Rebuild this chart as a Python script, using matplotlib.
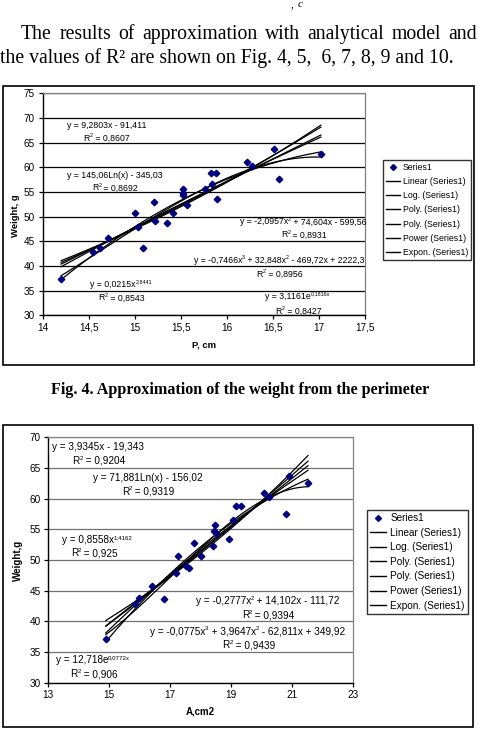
import numpy as np
import matplotlib
matplotlib.use("Agg")
import matplotlib.pyplot as plt
from matplotlib.lines import Line2D
from matplotlib.patches import Rectangle

plt.rcParams['font.family'] = ['Liberation Sans', 'DejaVu Sans']

# ---------------- data ----------------
# Fig. 4 : weight vs perimeter
p_cm = [14.20, 14.55, 14.62, 14.71, 15.00, 15.03, 15.09, 15.21, 15.22, 15.35,
        15.41, 15.52, 15.52, 15.52, 15.57, 15.76, 15.83, 15.88, 15.84, 15.89,
        16.22, 16.27, 16.51, 16.57, 17.02]
w_p = [37.3, 42.8, 43.7, 45.7, 50.7, 47.9, 43.7, 52.9, 49.1, 48.8,
       50.8, 55.7, 54.8, 54.4, 52.4, 55.6, 58.9, 58.8, 56.6, 53.6,
       61.1, 60.3, 63.7, 57.6, 62.6]

# Fig. 5 : weight vs area
a_cm2 = [14.89, 15.85, 15.99, 16.40, 16.80, 17.20, 17.26, 17.52, 17.62, 17.79,
         18.00, 18.40, 18.45, 18.48, 18.50, 18.92, 19.07, 19.16, 19.33, 20.07,
         20.25, 20.82, 20.90, 21.53]
w_a = [37.2, 42.8, 43.8, 45.7, 43.6, 47.8, 50.6, 49.0, 48.7, 52.8,
       50.7, 52.3, 54.8, 55.7, 54.4, 53.4, 56.5, 58.8, 58.8, 61.0,
       60.3, 57.5, 63.7, 62.6]

# trendline coefficients as printed on the charts
c1_lin = [9.2803, -91.411]
c1_log = [145.06, -345.03]
c1_pol2 = [-2.0957, 74.604, -599.56]
c1_pol3 = [-0.7466, 32.848, -469.72, 2222.3]
c1_pow = [0.0215, 2.8441]
c1_exp = [3.1161, 0.1816]

c2_lin = [3.9345, -19.343]
c2_log = [71.881, -156.02]
c2_pol2 = [-0.2777, 14.102, -111.72]
c2_pol3 = [-0.0775, 3.9647, -62.811, 349.92]
c2_pow = [0.8558, 1.4162]
c2_exp = [12.718, 0.0772]

x1_ticks = [14, 14.5, 15, 15.5, 16, 16.5, 17, 17.5]
x1_labels = ['14', '14,5', '15', '15,5', '16', '16,5', '17', '17,5']
y1_ticks = [30, 35, 40, 45, 50, 55, 60, 65, 70, 75]
x2_ticks = [13, 15, 17, 19, 21, 23]
y2_ticks = [30, 35, 40, 45, 50, 55, 60, 65, 70]

legend_labels = ['Series1', 'Linear (Series1)', 'Log. (Series1)', 'Poly. (Series1)',
                 'Poly. (Series1)', 'Power (Series1)', 'Expon. (Series1)']

# ---------------- figure ----------------
W, H = 478, 738
fig = plt.figure(figsize=(W / 100, H / 100), dpi=100)
fig.patch.set_facecolor('white')
fig.canvas.draw()
renderer = fig.canvas.get_renderer()


def rect(l, t, r, b):
    return [l / W, 1 - b / H, (r - l) / W, (b - t) / H]


def fx(x):
    return x / W


def fy(y):
    return 1 - y / H


def text_w(s, **kw):
    t = fig.text(0, 0, s, **kw)
    w = t.get_window_extent(renderer).width
    t.remove()
    return w


def rich(xc, yb, s, fs):
    """draw text with ^{...} superscripts as separate pieces, centred at xc, baseline yb (px)"""
    segs = []
    i = 0
    while i < len(s):
        if s[i] == '^':
            j = s.index('}', i)
            segs.append((s[i + 2:j], True))
            i = j + 1
        else:
            j = s.find('^', i)
            j = len(s) if j < 0 else j
            segs.append((s[i:j], False))
            i = j
    sfs = fs * 0.62
    aw = text_w('a', fontsize=fs)
    widths = []
    for seg, sup in segs:
        f = sfs if sup else fs
        widths.append(text_w('a' + seg + 'a', fontsize=f) - 2 * text_w('a', fontsize=f))
    x = xc - sum(widths) / 2
    for (seg, sup), wd in zip(segs, widths):
        if sup:
            fig.text(fx(x), fy(yb - fs * 100 / 72 * 0.42), seg, fontsize=sfs,
                     ha='left', va='baseline')
        else:
            fig.text(fx(x), fy(yb), seg, fontsize=fs, ha='left', va='baseline')
        x += wd


# body text (justified first line)
serif = ['Liberation Serif', 'DejaVu Serif']
fig.text(fx(291), fy(0), ',', family=serif, fontsize=8, ha='left', va='top')
fig.text(fx(298), fy(0), 'c', family=serif, fontsize=8, style='italic', ha='left', va='top')

line1 = "The results of approximation with analytical model and".split()
bsize = 14.2
widths = [text_w(w, family=serif, fontsize=bsize) for w in line1]
x0, x1 = 21, 477
gap = (x1 - x0 - sum(widths)) / (len(line1) - 1)
xp = x0
for w, wd in zip(line1, widths):
    fig.text(fx(xp), fy(39), w, family=serif, fontsize=bsize, ha='left', va='baseline')
    xp += wd + gap
fig.text(fx(0), fy(63), "the values of R\u00b2 are shown on Fig. 4, 5,  6, 7, 8, 9 and 10.",
         family=serif, fontsize=bsize, ha='left', va='baseline')

# frames
for (l, t, r, b) in [(3, 86, 474, 365), (3, 425, 472.7, 726.7)]:
    fig.patches.append(Rectangle((fx(l), fy(b)), (r - l) / W, (b - t) / H,
                                 transform=fig.transFigure, fill=False,
                                 edgecolor='black', linewidth=1.2))

fig.text(fx(240), fy(390), "Fig. 4. Approximation of the weight from the perimeter",
         family=serif, fontsize=11.6, weight='bold', ha='center', va='center')


def style_axes(ax, xt, xl, yt, grid_color):
    ax.set_xticks(xt)
    ax.set_xticklabels(xl)
    ax.set_yticks(yt)
    ax.set_yticklabels([str(v) for v in yt])
    ax.tick_params(labelsize=7.2, length=3, width=0.9, pad=2.5, direction='out')
    ax.yaxis.grid(True, color=grid_color, linewidth=0.9)
    ax.set_axisbelow(True)
    for s in ['left', 'bottom']:
        ax.spines[s].set_color('black')
        ax.spines[s].set_linewidth(1.0)
    for s in ['top', 'right']:
        ax.spines[s].set_color('#808080')
        ax.spines[s].set_linewidth(0.9)


def trendlines(ax, x, lin, lg, p2, p3, pw, ex):
    xs = np.linspace(min(x), max(x), 200)
    curves = [np.polyval(lin, xs),
              lg[0] * np.log(xs) + lg[1],
              np.polyval(p2, xs),
              np.polyval(p3, xs),
              pw[0] * xs ** pw[1],
              ex[0] * np.exp(ex[1] * xs)]
    for c in curves:
        ax.plot(xs, c, color='black', linewidth=0.9, zorder=3)


def make_legend(l, t, fs, ls):
    handles = [Line2D([], [], marker='D', color='#000080', linestyle='none', markersize=3)]
    handles += [Line2D([], [], color='black', linewidth=1.0) for _ in range(6)]
    leg = fig.legend(handles, legend_labels, loc='upper left',
                     bbox_to_anchor=(fx(l), fy(t)), bbox_transform=fig.transFigure,
                     fontsize=fs, frameon=True, fancybox=False, edgecolor='black',
                     borderaxespad=0, handlelength=1.6, handletextpad=0.4,
                     labelspacing=ls, borderpad=0.3)
    leg.get_frame().set_linewidth(1.0)


# ---- chart 1 ----
ax1 = fig.add_axes(rect(42.7, 93.3, 365, 315.3))
ax1.set_xlim(14, 17.5)
ax1.set_ylim(30, 75)
style_axes(ax1, x1_ticks, x1_labels, y1_ticks, 'black')
trendlines(ax1, p_cm, c1_lin, c1_log, c1_pol2, c1_pol3, c1_pow, c1_exp)
ax1.plot(p_cm, w_p, linestyle='none', marker='D', color='#000080', markersize=3.3, zorder=4)
fig.text(fx(204), fy(345), 'P, cm', fontsize=6.8, weight='bold', ha='center', va='center')
fig.text(fx(15), fy(216), 'Weight, g', fontsize=6.8, weight='bold', rotation=90,
         ha='center', va='center')

efs1 = 6.3
lab1 = [
    (106.7, 125.3, 'y = 9,2803x - 91,411'),
    (106.7, 138.3, 'R^{2} = 0,8607'),
    (115, 175, 'y = 145,06Ln(x) - 345,03'),
    (115, 187.7, 'R^{2} = 0,8692'),
    (303.3, 221.7, 'y = -2,0957x^{2} + 74,604x - 599,56'),
    (304, 234.7, 'R^{2} = 0,8931'),
    (279, 260, 'y = -0,7466x^{3} + 32,848x^{2} - 469,72x + 2222,3'),
    (279.3, 274, 'R^{2} = 0,8956'),
    (121, 284.3, 'y = 0,0215x^{2,8441}'),
    (121.7, 297.7, 'R^{2} = 0,8543'),
    (298, 296.7, 'y = 3,1161e^{0,1816x}'),
    (298.3, 311.3, 'R^{2} = 0,8427'),
]
for x, y, s in lab1:
    rich(x, y + 2.7, s, efs1)
make_legend(383, 160, 6.3, 0.6)

# ---- chart 2 ----
ax2 = fig.add_axes(rect(48.3, 437.3, 352.7, 682.7))
ax2.set_xlim(13, 23)
ax2.set_ylim(30, 70)
style_axes(ax2, x2_ticks, [str(v) for v in x2_ticks], y2_ticks, '#707070')
trendlines(ax2, a_cm2, c2_lin, c2_log, c2_pol2, c2_pol3, c2_pow, c2_exp)
ax2.plot(a_cm2, w_a, linestyle='none', marker='D', color='#000080', markersize=3.3, zorder=4)
fig.text(fx(200), fy(712), 'A,cm2', fontsize=7, weight='bold', ha='center', va='center')
fig.text(fx(18), fy(560), 'Weight,g', fontsize=7, weight='bold', rotation=90,
         ha='center', va='center')

efs2 = 7.2
lab2 = [
    (98, 446.7, 'y = 3,9345x - 19,343'),
    (99, 460.7, 'R^{2} = 0,9204'),
    (148, 478, 'y = 71,881Ln(x) - 156,02'),
    (148.3, 491.7, 'R^{2} = 0,9319'),
    (97, 540, 'y = 0,8558x^{1,4162}'),
    (94.3, 553.3, 'R^{2} = 0,925'),
    (267.7, 600.7, 'y = -0,2777x^{2} + 14,102x - 111,72'),
    (268.3, 615, 'R^{2} = 0,9394'),
    (247.5, 631.7, 'y = -0,0775x^{3} + 3,9647x^{2} - 62,811x + 349,92'),
    (249, 645, 'R^{2} = 0,9439'),
    (93, 660, 'y = 12,718e^{0,0772x}'),
    (94, 674.3, 'R^{2} = 0,906'),
]
for x, y, s in lab2:
    rich(x, y + 3.0, s, efs2)
make_legend(367.3, 510, 7.2, 0.46)

fig.savefig('out.png', dpi=100)
